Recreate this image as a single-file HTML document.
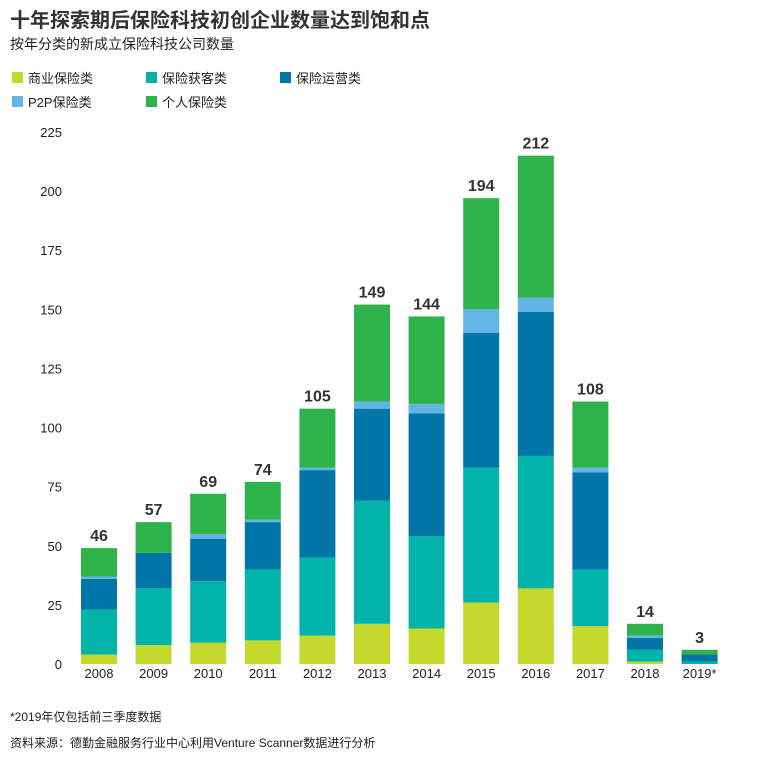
<!DOCTYPE html>
<html><head><meta charset="utf-8">
<style>
body{margin:0;background:#fff;width:773px;height:760px;overflow:hidden;font-family:"Liberation Sans","Noto Sans CJK SC",sans-serif;color:#222}
.t{position:absolute;white-space:nowrap}
.sw{position:absolute;width:11px;height:11px}
</style></head><body>
<div class="t" style="left:10px;top:4px;font-size:20px;font-weight:bold;color:#333">十年探索期后保险科技初创企业数量达到饱和点</div>
<div class="t" style="left:10px;top:34px;font-size:14px;color:#222">按年分类的新成立保险科技公司数量</div>
<div>
<div class="sw" style="left:12px;top:72px;background:#c5d92d"></div><div class="t" style="left:28px;top:68px;font-size:13px">商业保险类</div>
<div class="sw" style="left:146px;top:72px;background:#00b4aa"></div><div class="t" style="left:162px;top:68px;font-size:13px">保险获客类</div>
<div class="sw" style="left:280px;top:72px;background:#0076a8"></div><div class="t" style="left:296px;top:68px;font-size:13px">保险运营类</div>
<div class="sw" style="left:12px;top:96px;background:#62b5e5"></div><div class="t" style="left:28px;top:92px;font-size:13px">P2P保险类</div>
<div class="sw" style="left:146px;top:96px;background:#2db34a"></div><div class="t" style="left:162px;top:92px;font-size:13px">个人保险类</div>
</div>
<svg id="chart" width="773" height="760" style="position:absolute;left:0;top:0"></svg>
<div class="t" style="left:10px;top:708px;font-size:12px">*2019年仅包括前三季度数据</div>
<div class="t" style="left:10px;top:734px;font-size:12px">资料来源：德勤金融服务行业中心利用Venture Scanner数据进行分析</div>
<script>
const years=["2008","2009","2010","2011","2012","2013","2014","2015","2016","2017","2018","2019*"];
const commercial=[4,8,9,10,12,17,15,26,32,16,1,0];
const acquisition=[19,24,26,30,33,52,39,57,56,24,5,1];
const operations=[13,15,18,20,37,39,52,57,61,41,5,3];
const p2p=[1,0,2,1,1,3,4,10,6,2,1,0];
const personal=[12,13,17,16,25,41,37,47,60,28,5,2];
const totals=[46,57,69,74,105,149,144,194,212,108,14,3];
const yTicks=[0,25,50,75,100,125,150,175,200,225];
const series=[[commercial,"#c5d92d","commercial"],[acquisition,"#00b4aa","acquisition"],[operations,"#0076a8","operations"],[p2p,"#62b5e5","p2p"],[personal,"#2db34a","personal"]];
const svg=document.getElementById('chart');const NS="http://www.w3.org/2000/svg";
const y=v=>664-v*(532/225);
const x=i=>99+i*54.6;
const bw=36;
function mk(tag,attrs){const e=document.createElementNS(NS,tag);for(const k in attrs)e.setAttribute(k,attrs[k]);svg.appendChild(e);return e;}
yTicks.forEach(t=>{const e=mk('text',{x:62,y:y(t)+5,'text-anchor':'end','font-size':13,fill:'#222'});e.textContent=t;

});
years.forEach((yr,i)=>{let acc=0;
series.forEach(([arr,col,nm])=>{const v=arr[i];const r=mk('rect',{x:x(i)-bw/2,y:y(acc+v),width:bw,height:Math.max(0,y(acc)-y(acc+v)),fill:col});

acc+=v;});
const tl=mk('text',{x:x(i),y:y(acc)-7,'text-anchor':'middle','font-size':16,'font-weight':'bold','font-family':'"Liberation Sans Narrow","Liberation Sans",sans-serif',fill:'#333'});tl.textContent=totals[i];


const xl=mk('text',{x:x(i),y:678,'text-anchor':'middle','font-size':13,fill:'#222'});xl.textContent=yr;

});
</script>
</body></html>
